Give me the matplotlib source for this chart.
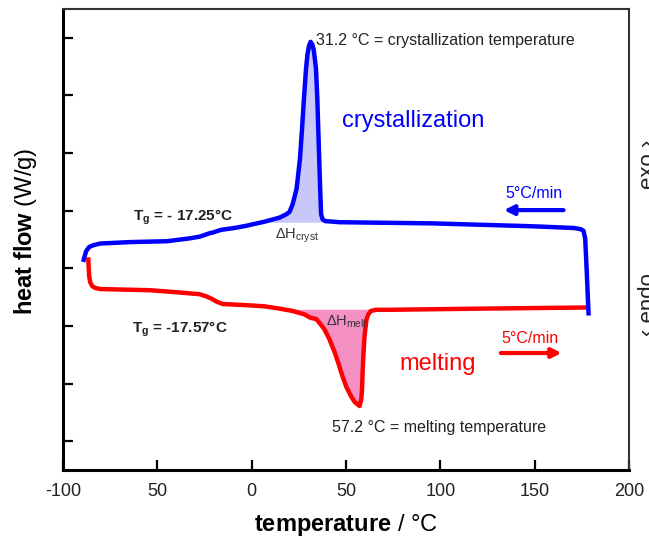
import numpy as np
import matplotlib
matplotlib.use('Agg')
import matplotlib.pyplot as plt

plt.rcParams.update({
    'font.family': ['Liberation Sans', 'DejaVu Sans'],
    'mathtext.fontset': 'custom',
    'mathtext.rm': 'Liberation Sans',
    'mathtext.it': 'Liberation Sans:italic',
    'mathtext.bf': 'Liberation Sans:bold',
})

# cooling run (crystallization), temperature in degC, heat flow in arbitrary W/g units
blue_T = np.array([-89.3, -88.7, -87.7, -86.1, -84.0, -80.3, -64.4, -44.9, -32.8, -27.5,
                   -24.8, -22.2, -20.6, -18.0, -15.8, -9.0, -2.6, 6.9, 14.8, 18.5,
                   20.1, 21.7, 23.8, 25.6, 26.7, 27.7, 28.8, 29.6, 30.4, 31.2,
                   32.2, 33.0, 34.1, 34.8, 35.3, 35.8, 36.3, 36.8, 37.6, 38.9,
                   46.5, 95.6, 148.4, 170.6, 174.3, 175.9, 176.8, 177.7, 178.6])
blue_HF = np.array([4.11, 4.19, 4.30, 4.37, 4.40, 4.43, 4.455, 4.47, 4.52, 4.55,
                    4.58, 4.61, 4.62, 4.65, 4.67, 4.70, 4.74, 4.81, 4.88, 4.94,
                    4.98, 5.11, 5.38, 5.90, 6.42, 6.94, 7.46, 7.72, 7.86, 7.93,
                    7.88, 7.77, 7.46, 6.94, 6.42, 5.90, 5.38, 4.94, 4.85, 4.82,
                    4.80, 4.78, 4.73, 4.70, 4.68, 4.65, 4.51, 3.87, 3.18])

# heating run (melting)
red_T = np.array([-86.6, -86.4, -86.1, -85.6, -84.5, -82.9, -80.3, -53.9, -38.0, -27.5,
                  -23.8, -21.1, -18.5, -15.3, -9.0, -2.6, 6.9, 14.8, 21.7, 28.0,
                  31.2, 34.2, 36.5, 38.6, 41.2, 43.8, 46.0, 48.1, 50.2, 52.7,
                  54.6, 57.2, 58.1, 58.5, 58.8, 59.2, 59.7, 60.2, 60.9, 61.8,
                  63.2, 65.9, 72.9, 120.4, 177.5])
red_HF = np.array([4.19, 4.02, 3.86, 3.76, 3.69, 3.66, 3.64, 3.62, 3.58, 3.55,
                   3.51, 3.47, 3.42, 3.38, 3.37, 3.36, 3.34, 3.30, 3.26, 3.20,
                   3.14, 3.12, 3.03, 2.94, 2.77, 2.56, 2.35, 2.13, 1.94, 1.78,
                   1.68, 1.61, 1.73, 1.90, 2.20, 2.48, 2.77, 2.94, 3.12, 3.20,
                   3.26, 3.28, 3.28, 3.30, 3.32])

cryst_baseline = 4.80
melt_baseline = 3.29

x_ticks = [-100, -50, 0, 50, 100, 150, 200]
x_ticklabels = ['-100', '50', '0', '50', '100', '150', '200']
y_ticks = [1, 2, 3, 4, 5, 6, 7, 8]

fig = plt.figure(figsize=(6.49, 5.41), dpi=100)
ax = fig.add_axes([63 / 649, 1 - 470 / 541, 566 / 649, 461 / 541])

# shaded enthalpy areas
m = (blue_T >= 0) & (blue_T <= 46.5)
ax.fill_between(blue_T[m], blue_HF[m], cryst_baseline, where=blue_HF[m] >= cryst_baseline,
                interpolate=True, color='#c8c8f8', lw=0, zorder=1)
m = (red_T >= 10) & (red_T <= 73)
ax.fill_between(red_T[m], red_HF[m], melt_baseline, where=red_HF[m] <= melt_baseline,
                interpolate=True, color='#f490c4', lw=0, zorder=1)

ax.plot(red_T, red_HF, color='#ff0000', lw=3.2, solid_capstyle='butt',
        solid_joinstyle='round', zorder=3)
ax.plot(blue_T, blue_HF, color='#0000ff', lw=3.2, solid_capstyle='butt',
        solid_joinstyle='round', zorder=3)

ax.set_xlim(-100, 200)
ax.set_ylim(0.5, 8.5)
ax.set_xticks(x_ticks)
ax.set_xticklabels(x_ticklabels)
ax.set_yticks(y_ticks)
ax.set_yticklabels([])
ax.tick_params(axis='x', direction='in', length=7, width=1.6, labelsize=13, pad=9,
               labelcolor='#222222')
ax.tick_params(axis='y', direction='in', length=7, width=1.6)
for s in ['left', 'bottom']:
    ax.spines[s].set_linewidth(2.2)
    ax.spines[s].set_color('black')
for s in ['top', 'right']:
    ax.spines[s].set_linewidth(1.5)
    ax.spines[s].set_color('#333333')

ax.set_xlabel(r'$\mathbf{temperature}$ / °C', fontsize=17)
ax.set_ylabel(r'$\mathbf{heat\ flow}$ (W/g)', fontsize=17)
ax.xaxis.set_label_coords(0.5, -0.092)
ax.yaxis.set_label_coords(-0.043, 0.518)

# annotations
ax.text(34.3, 7.95, '31.2 °C = crystallization temperature', fontsize=11.5,
        color='#222222', va='center')
ax.text(42.8, 1.24, '57.2 °C = melting temperature', fontsize=11.5,
        color='#222222', va='center')
ax.text(48.1, 6.56, 'crystallization', fontsize=17, color='#0000ff', va='center')
ax.text(78.2, 2.34, 'melting', fontsize=17, color='#ff0000', va='center')
ax.text(134.7, 5.29, '5°C/min', fontsize=11.5, color='#0000ff', va='center')
ax.text(132.6, 2.79, '5°C/min', fontsize=11.5, color='#ff0000', va='center')
ax.annotate('', xy=(133.7, 5.01), xytext=(165.3, 5.01),
            arrowprops=dict(arrowstyle='-|>', color='#0000ff', lw=3, mutation_scale=14,
                            shrinkA=0, shrinkB=0))
ax.annotate('', xy=(164.3, 2.53), xytext=(132.1, 2.53),
            arrowprops=dict(arrowstyle='-|>', color='#ff0000', lw=3, mutation_scale=14,
                            shrinkA=0, shrinkB=0))
ax.text(-62.9, 4.89, r'$\mathbf{T}_\mathbf{g}$ = - 17.25°C', fontsize=11,
        fontweight='bold', color='#222222', va='center')
ax.text(-63.4, 2.94, r'$\mathbf{T}_\mathbf{g}$ = -17.57°C', fontsize=11,
        fontweight='bold', color='#222222', va='center')
ax.text(12.2, 4.56, r'ΔH$_{\mathrm{cryst}}$', fontsize=10.5, color='#333333', va='center')
ax.text(39.6, 3.07, r'ΔH$_{\mathrm{melt}}$', fontsize=10.5, color='#333333', va='center')

# exo / endo marker on the right edge (cut off by the figure border, as in the source)
fig.text(637.5 / 649, 1 - 305 / 541, '‹ endo', rotation=90, fontsize=16,
         ha='left', va='center', color='#222222')
fig.text(637.5 / 649, 1 - 164 / 541, 'exo ›', rotation=90, fontsize=16,
         ha='left', va='center', color='#222222')

fig.savefig('out.png', dpi=100)
